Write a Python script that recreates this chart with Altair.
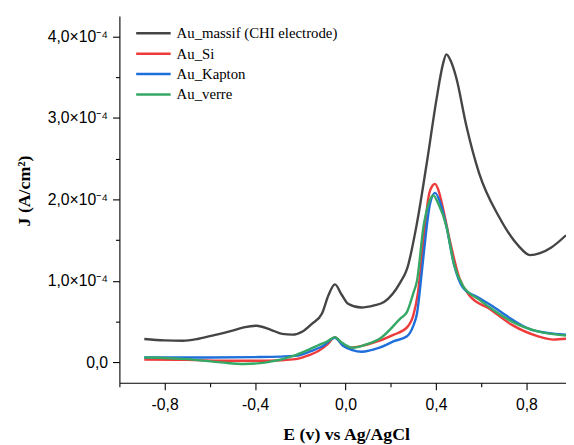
import altair as alt
import pandas as pd

series_names = ["Au_massif (CHI electrode)", "Au_Si", "Au_Kapton", "Au_verre"]
series_colors = ["#454545", "#EE3B3B", "#1F6FDB", "#35A865"]

# E (V vs Ag/AgCl) and J (in units of 1e-4 A/cm2)
massif_E = [-0.89, -0.80, -0.72, -0.65, -0.57, -0.50, -0.45, -0.394, -0.33, -0.28, -0.235, -0.19, -0.15,
            -0.104, -0.076, -0.047, -0.017, 0.011, 0.07, 0.127, 0.17, 0.243, 0.272, 0.316, 0.359, 0.403,
            0.43, 0.446, 0.465, 0.49, 0.533, 0.591, 0.678, 0.765, 0.816, 0.86, 0.91, 0.975]
massif_J = [0.287, 0.27, 0.266, 0.29, 0.34, 0.39, 0.43, 0.45, 0.40, 0.35, 0.34, 0.38, 0.47,
            0.60, 0.82, 0.957, 0.83, 0.72, 0.674, 0.70, 0.74, 0.985, 1.146, 1.71, 2.44, 3.24,
            3.65, 3.78, 3.70, 3.49, 2.92, 2.32, 1.79, 1.43, 1.316, 1.34, 1.41, 1.56]

si_E = [-0.89, -0.70, -0.50, -0.35, -0.22, -0.16, -0.12, -0.08, -0.047, -0.02, 0.02, 0.10, 0.214, 0.272,
        0.30, 0.32, 0.345, 0.367, 0.385, 0.396, 0.41, 0.432, 0.461, 0.504, 0.548, 0.635, 0.736, 0.852, 0.92, 0.975]
si_J = [0.035, 0.03, 0.02, 0.02, 0.04, 0.09, 0.14, 0.22, 0.31, 0.24, 0.18, 0.22, 0.34, 0.43,
        0.58, 0.85, 1.50, 2.03, 2.17, 2.19, 2.12, 1.88, 1.50, 1.03, 0.82, 0.66, 0.46, 0.32, 0.28, 0.29]

kapton_E = [-0.89, -0.60, -0.40, -0.22, -0.15, -0.10, -0.047, -0.01, 0.03, 0.07, 0.15, 0.214, 0.272, 0.30,
            0.316, 0.337, 0.345, 0.374, 0.396, 0.42, 0.446, 0.48, 0.519, 0.591, 0.65, 0.707, 0.823, 0.975]
kapton_J = [0.06, 0.06, 0.065, 0.08, 0.14, 0.20, 0.30, 0.20, 0.15, 0.13, 0.18, 0.26, 0.32, 0.45,
            0.60, 1.10, 1.31, 1.95, 2.08, 1.95, 1.67, 1.20, 0.92, 0.79, 0.69, 0.58, 0.40, 0.34]

verre_E = [-0.89, -0.70, -0.55, -0.45, -0.35, -0.22, -0.16, -0.12, -0.08, -0.047, -0.02, 0.03, 0.09, 0.156,
           0.243, 0.272, 0.30, 0.316, 0.345, 0.37, 0.388, 0.41, 0.446, 0.48, 0.519, 0.591, 0.66, 0.736, 0.85, 0.975]
verre_J = [0.06, 0.04, 0.0, -0.02, 0.0, 0.09, 0.16, 0.21, 0.26, 0.31, 0.25, 0.18, 0.22, 0.30,
           0.54, 0.62, 0.85, 1.0, 1.67, 1.97, 2.05, 1.95, 1.67, 1.20, 0.94, 0.77, 0.63, 0.50, 0.38, 0.33]

x_major = [-0.8, -0.4, 0.0, 0.4, 0.8]
x_minor = [-1.0, -0.6, -0.2, 0.2, 0.6]
y_major = [0, 1e-4, 2e-4, 3e-4, 4e-4]
y_minor = [0.5e-4, 1.5e-4, 2.5e-4, 3.5e-4]

rows = []
for name, es, js in zip(series_names, [massif_E, si_E, kapton_E, verre_E], [massif_J, si_J, kapton_J, verre_J]):
    for i, (e, j) in enumerate(zip(es, js)):
        rows.append({"series": name, "E": e, "J": j * 1e-4, "idx": i})
df = pd.DataFrame(rows)

xdom = [-1.0, 0.975]
ydom = [-0.25e-4, 4.25e-4]

xscale = alt.Scale(domain=xdom, nice=False, zero=False)
yscale = alt.Scale(domain=ydom, nice=False, zero=False)

x_lab = "replace(replace(format(datum.value, '.1f'), '.', ','), '\u2212', '-')"
y_lab = "datum.value == 0 ? '0,0' : replace(format(datum.value * 10000, '.1f'), '.', ',') + '\u00d710\u207b\u2074'"

lines = alt.Chart(df).mark_line(strokeWidth=2.4, interpolate="monotone").encode(
    x=alt.X("E:Q", scale=xscale,
            axis=alt.Axis(values=x_major, labelExpr=x_lab, title="E (v) vs Ag/AgCl",
                          orient="bottom", tickSize=7, labelPadding=7,
                          titleY=44, titleBaseline="top", titleX=230, titleAlign="center")),
    y=alt.Y("J:Q", scale=yscale,
            axis=alt.Axis(values=y_major, labelExpr=y_lab, title="J (A/cm²)",
                          orient="left", tickSize=7, labelPadding=5,
                          titleX=-96, titleY=177, titleAngle=-90,
                          titleAlign="center", titleBaseline="middle")),
    color=alt.Color("series:N",
                    scale=alt.Scale(domain=series_names, range=series_colors),
                    sort=series_names,
                    legend=alt.Legend(title=None, orient="none", legendX=27, legendY=10,
                                      symbolType="M-3,0H3", symbolSize=136, symbolStrokeWidth=2.6,
                                      labelFont="Liberation Serif", labelFontSize=15, labelLimit=400,
                                      labelColor="black", labelOffset=16, rowPadding=4.7,
                                      padding=0)),
    order=alt.Order("idx:Q"),
    detail="series:N",
)

minor = alt.Chart(df).mark_line(opacity=0).encode(
    x=alt.X("E:Q", scale=xscale,
            axis=alt.Axis(values=x_minor, labels=False, title=None, orient="bottom",
                          tickSize=4, domain=False)),
    y=alt.Y("J:Q", scale=yscale,
            axis=alt.Axis(values=y_minor, labels=False, title=None, orient="left",
                          tickSize=4, domain=False)),
    detail="series:N",
)

chart = alt.layer(minor, lines).resolve_axis(x="independent", y="independent").properties(
    width=453, height=372,
    autosize=alt.AutoSizeParams(type="none"),
    padding={"left": 113, "top": 5, "right": 0, "bottom": 60},
).configure_axis(
    grid=False,
    domainColor="black", domainWidth=1.1,
    tickColor="black", tickWidth=1.1,
    labelFont="Liberation Sans", labelFontSize=16, labelColor="black",
    titleFont="Liberation Serif", titleFontSize=18, titleFontWeight="bold", titleColor="black",
).configure_view(stroke=None)

chart.save("out.html", embed_options={"renderer": "svg", "actions": False})
